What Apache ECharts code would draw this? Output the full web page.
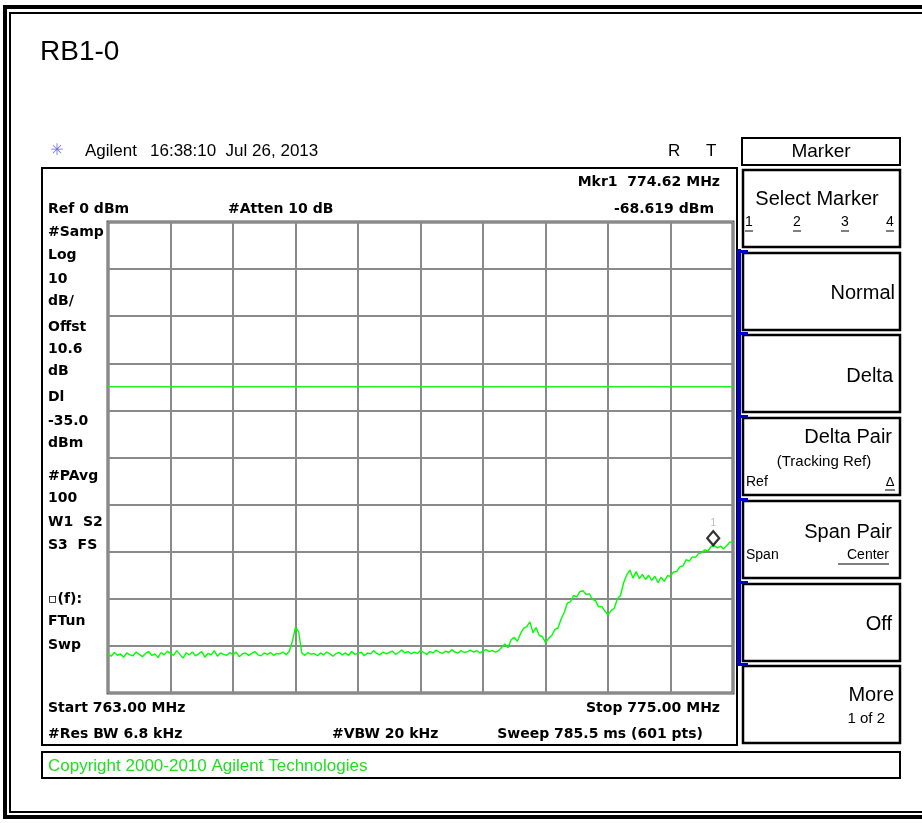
<!DOCTYPE html>
<html>
<head>
<meta charset="utf-8">
<title>RB1-0</title>
<script src="https://cdn.jsdelivr.net/npm/echarts@6/dist/echarts.min.js"></script>
<style>
  html, body { margin: 0; padding: 0; background: #fff; }
  #chart { width: 922px; height: 823px; }
</style>
</head>
<body>
<div id="chart"></div>
<script>
// sweep settings
var startFreq = 763.00;
var stopFreq = 775.00;
var freqStep = 0.06;
var refLevel = 0;
var bottomLevel = -100;
var displayLine = -35.0;
var markerFreq = 774.62;
var markerDbm = -68.619;

// trace (dBm), one value every 0.06 MHz
var traceDbm = [
  -91.6, -92.2, -91.4, -92.0, -91.7, -92.4, -91.5, -91.9, -92.1, -91.3,
  -91.8, -92.3, -91.6, -91.2, -92.0, -91.7, -92.5, -91.4, -91.9, -91.1,
  -91.6, -92.0, -91.0, -91.8, -92.6, -91.5, -91.9, -91.3, -92.1, -91.7,
  -91.2, -92.4, -91.6, -91.9, -91.0, -92.2, -91.5, -91.8, -92.0, -91.4,
  -91.9, -91.3, -92.3, -91.7, -91.5, -92.0, -91.6, -91.2, -91.9, -92.1,
  -91.5, -91.8, -91.4, -92.0, -91.6, -91.7, -91.3, -91.9, -91.2,
  -89.0, -86.0, -87.0, -91.5,
  -92.0, -91.4, -91.8, -91.6, -92.1, -91.5, -91.9, -91.3, -91.7, -92.2,
  -91.6, -91.4, -91.9, -91.5, -92.0, -91.2, -91.8, -91.6, -91.3, -92.1,
  -91.5, -91.7, -91.0, -91.6, -91.9, -91.3, -91.7, -91.4, -91.1, -91.8,
  -91.4, -90.9, -91.5, -91.2, -91.7, -91.3, -91.6, -91.0, -91.4, -91.8,
  -91.2, -91.5, -90.9, -91.3, -91.6, -91.1, -91.4, -90.8, -91.3, -91.5,
  -91.0, -91.4, -91.2, -90.9, -91.3, -91.0, -91.5, -91.1, -90.8, -91.2,
  -91.0, -91.3,
  -91.0, -90.3, -89.6, -90.4, -88.7, -88.2, -89.0, -87.4, -86.3, -85.9,
  -84.9, -87.2, -86.1, -87.8, -88.0, -89.3, -88.4, -87.8, -86.5, -86.2,
  -84.3, -82.9, -80.9, -80.6, -79.3, -79.6, -78.5, -78.3, -79.1, -78.9,
  -80.1, -80.4, -81.7, -81.6, -82.6, -83.4, -82.5, -82.0, -80.0, -79.3,
  -76.6, -74.9, -73.9, -75.6, -74.2, -75.7, -74.8, -75.9, -75.0, -76.1,
  -75.2, -76.6, -75.4, -76.3, -75.1, -75.2, -74.3, -74.2, -73.2, -73.0,
  -71.7, -72.0, -71.1, -71.2, -70.4, -70.2, -69.6, -69.8, -68.9, -68.7,
  -69.2, -68.8, -69.4, -68.7, -68.0, -67.9
];

// annotation texts
var sideLabels = ['#Samp', 'Log', '10', 'dB/', 'Offst', '10.6', 'dB', 'Dl', '-35.0', 'dBm',
  '#PAvg', '100', 'W1  S2', 'S3  FS', '', '\u25ab(f):', 'FTun', 'Swp'];
var softkeys = ['Select Marker', 'Normal', 'Delta', 'Delta Pair', 'Span Pair', 'Off', 'More'];

var traceData = [];
for (var i = 0; i < traceDbm.length; i++) {
  traceData.push([+(startFreq + i * freqStep).toFixed(2), traceDbm[i]]);
}

var bold = 'bold 14px "DejaVu Sans"';
var plain = '"Liberation Sans", Arial';

function txt(x, y, s, font, align, color) {
  return {
    type: 'text', x: x, y: y, silent: true,
    style: { text: s, font: font, fill: color || '#000', textAlign: align || 'left', textVerticalAlign: 'middle' }
  };
}
function box(x, y, w, h, lw) {
  return {
    type: 'rect', silent: true, shape: { x: x, y: y, width: w, height: h },
    style: { fill: null, stroke: '#000', lineWidth: lw || 2 }
  };
}
function uline(x1, x2, y) {
  return { type: 'line', silent: true, shape: { x1: x1, y1: y, x2: x2, y2: y }, style: { stroke: '#000', lineWidth: 1 } };
}

var g = [];
// page frame
g.push(box(5, 7, 940, 810, 4));
g.push(box(10, 13, 930, 799, 2));
g.push(txt(40, 52, 'RB1-0', '28px ' + plain));

// header
g.push(txt(57, 151, '\u2733', '16px "DejaVu Sans"', 'center', '#6f6fee'));
g.push(txt(85, 151, 'Agilent', '17px ' + plain));
g.push(txt(150, 151, '16:38:10  Jul 26, 2013', '17px ' + plain));
g.push(txt(668, 151, 'R', '17px ' + plain));
g.push(txt(706, 151, 'T', '17px ' + plain));

// instrument box
g.push(box(42, 168, 695, 577, 2));
g.push(txt(720, 182, 'Mkr1  774.62 MHz', bold, 'right'));
g.push(txt(48, 209, 'Ref 0 dBm', bold));
g.push(txt(228, 209, '#Atten 10 dB', bold));
g.push(txt(714, 209, '-68.619 dBm', bold, 'right'));
var sideY = [232, 255, 279, 301, 327, 349, 371, 397, 421, 443, 476, 498, 522, 545, 572, 599, 621, 645];
for (var k = 0; k < sideLabels.length; k++) {
  if (sideLabels[k]) g.push(txt(48, sideY[k], sideLabels[k], bold));
}
g.push(txt(48, 708, 'Start 763.00 MHz', bold));
g.push(txt(720, 708, 'Stop 775.00 MHz', bold, 'right'));
g.push(txt(48, 734, '#Res BW 6.8 kHz', bold));
g.push(txt(332, 734, '#VBW 20 kHz', bold));
g.push(txt(703, 734, 'Sweep 785.5 ms (601 pts)', bold, 'right'));

// copyright strip
g.push(box(42, 752, 858, 26, 2));
g.push(txt(48, 766, 'Copyright 2000-2010 Agilent Technologies', '17px ' + plain, 'left', '#22dd22'));

// softkey panel
g.push(box(742, 138, 158, 27, 2));
g.push(txt(821, 152, 'Marker', '19px ' + plain, 'center'));
var keyTop = [170, 253, 335, 418, 501, 584, 666];
for (var b = 0; b < keyTop.length; b++) {
  g.push(box(743, keyTop[b], 157, 77, 2.5));
}
g.push({ type: 'rect', silent: true, shape: { x: 737, y: 249, width: 4, height: 416 }, style: { fill: '#0000cc' } });
for (var t = 1; t < keyTop.length; t++) {
  g.push({ type: 'rect', silent: true, shape: { x: 737, y: keyTop[t] - 3, width: 11, height: 3 }, style: { fill: '#0000cc' } });
}
var big = '20px ' + plain, small = '14px ' + plain;
g.push(txt(817, 199, softkeys[0], big, 'center'));
var nums = ['1', '2', '3', '4'], numX = [749, 797, 845, 890];
for (var n = 0; n < nums.length; n++) {
  g.push(txt(numX[n], 222, nums[n], small, 'center'));
  g.push(uline(numX[n] - 4, numX[n] + 4, 231));
}
g.push(txt(895, 293, softkeys[1], big, 'right'));
g.push(txt(893, 376, softkeys[2], big, 'right'));
g.push(txt(892, 437, softkeys[3], big, 'right'));
g.push(txt(824, 462, '(Tracking Ref)', '15px ' + plain, 'center'));
g.push(txt(746, 482, 'Ref', small));
g.push(txt(890, 482, '\u0394', '13px ' + plain, 'center'));
g.push(uline(885, 895, 490));
g.push(txt(892, 532, softkeys[4], big, 'right'));
g.push(txt(746, 555, 'Span', small));
g.push(txt(889, 555, 'Center', small, 'right'));
g.push(uline(838, 889, 564));
g.push(txt(892, 624, softkeys[5], big, 'right'));
g.push(txt(894, 695, softkeys[6], big, 'right'));
g.push(txt(885, 719, '1 of 2', '15px ' + plain, 'right'));

var myChart = echarts.init(document.getElementById('chart'));

var option = {
  animation: false,
  backgroundColor: '#fff',
  grid: {
    left: 108, top: 222, width: 625, height: 471,
    show: true, borderColor: '#555', borderWidth: 3, backgroundColor: '#fff'
  },
  xAxis: {
    type: 'value', min: startFreq, max: stopFreq, interval: 1.2,
    axisLine: { show: false }, axisTick: { show: false }, axisLabel: { show: false },
    splitLine: { show: true, lineStyle: { color: '#8a8a8a', width: 2 } }
  },
  yAxis: {
    type: 'value', min: bottomLevel, max: refLevel, interval: 10,
    axisLine: { show: false }, axisTick: { show: false }, axisLabel: { show: false },
    splitLine: { show: true, lineStyle: { color: '#8a8a8a', width: 2 } }
  },
  series: [
    {
      // display line
      type: 'line',
      data: [[startFreq, displayLine], [stopFreq, displayLine]],
      showSymbol: false,
      lineStyle: { color: '#22ee22', width: 1.5 },
      silent: true,
      z: 2
    },
    {
      type: 'line',
      data: traceData,
      showSymbol: false,
      lineStyle: { color: '#00ff00', width: 1.4 },
      silent: true,
      z: 3
    },
    {
      type: 'scatter',
      data: [[markerFreq, markerDbm]],
      symbol: 'diamond',
      symbolSize: [12, 14],
      symbolOffset: [0, -7],
      itemStyle: { color: '#fff', borderColor: '#000', borderWidth: 2.2 },
      label: { show: true, position: 'top', distance: 2, formatter: '1', color: '#aaa', fontSize: 10 },
      silent: true,
      z: 4
    }
  ],
  graphic: g
};

myChart.setOption(option);
</script>
</body>
</html>
